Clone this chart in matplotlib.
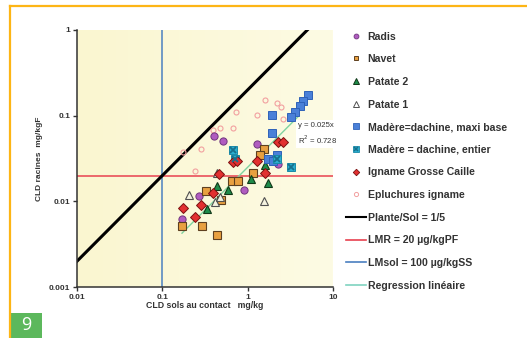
import numpy as np
import matplotlib
matplotlib.use("Agg")
import matplotlib.pyplot as plt
from matplotlib.lines import Line2D

plt.rcParams['font.family'] = ['Liberation Sans', 'DejaVu Sans']

# data (soil mg/kg, roots mg/kgF)
radis_x = [0.40, 0.51, 1.27, 0.90, 2.24, 0.169, 0.267]
radis_y = [0.058, 0.051, 0.047, 0.0134, 0.027, 0.0062, 0.0114]

navet_x = [0.323, 0.483, 0.65, 0.764, 0.169, 0.29, 0.434, 1.14, 1.54, 1.38]
navet_y = [0.0131, 0.0105, 0.0175, 0.0175, 0.0051, 0.0051, 0.0041, 0.0217, 0.0413, 0.0343]

patate2_x = [0.434, 0.583, 0.331, 1.08, 1.71, 1.58]
patate2_y = [0.0149, 0.0134, 0.0081, 0.018, 0.0162, 0.0262]

patate1_x = [0.204, 0.411, 0.471, 1.54, 0.434]
patate1_y = [0.0117, 0.0097, 0.0111, 0.0100, 0.0212]

madere_max_x = [5.16, 4.40, 4.05, 3.55, 3.18, 1.91, 1.91, 1.71, 2.18, 1.96]
madere_max_y = [0.175, 0.149, 0.131, 0.111, 0.097, 0.103, 0.0634, 0.0316, 0.0352, 0.0292]

madere_ent_x = [0.668, 0.705, 3.18, 2.18]
madere_ent_y = [0.0402, 0.0316, 0.0255, 0.0316]

igname_x = [2.24, 2.57, 1.27, 0.668, 0.743, 0.458, 1.58, 0.174, 0.24, 0.282, 0.39]
igname_y = [0.0499, 0.0499, 0.0292, 0.0284, 0.0292, 0.0206, 0.0212, 0.0083, 0.0065, 0.009, 0.0124]

epluch_x = [0.174, 0.24, 0.282, 0.39, 0.471, 0.668, 0.724, 1.27, 1.58, 2.18, 2.43, 2.57]
epluch_y = [0.0381, 0.0229, 0.0413, 0.0687, 0.0725, 0.0725, 0.111, 0.103, 0.153, 0.142, 0.127, 0.0923]

ratio = 1 / 5          # Plante/Sol
lmr = 0.02             # 20 µg/kgPF
lmsol = 0.1            # 100 µg/kgSS
reg_slope = 0.025
reg_r2 = 0.728
reg_range = [0.17, 4.0]

fig = plt.figure(figsize=(5.27, 3.38), dpi=100)
ax = fig.add_axes([77 / 527, 51 / 338, 256 / 527, 257 / 338])

# pale yellow background, a little lighter on the right
grad = np.linspace(0, 1, 256).reshape(1, -1)
c0 = np.array([250, 246, 208]) / 255
c1 = np.array([253, 251, 228]) / 255
img = c0 + (c1 - c0) * grad[..., None]
ax.imshow(img, extent=[0, 1, 0, 1], transform=ax.transAxes, aspect='auto', zorder=0)

ax.set_xscale('log')
ax.set_yscale('log')
ax.set_xlim(0.01, 10)
ax.set_ylim(0.001, 1)

xs = np.array([0.01, 5])
ax.plot(xs, xs * ratio, color='black', lw=2.2, zorder=2)
ax.axhline(lmr, color='#e8414f', lw=1.1, zorder=1)
ax.axvline(lmsol, color='#4a7fc0', lw=1.1, zorder=1)
rx = np.array(reg_range)
ax.plot(rx, rx * reg_slope, color='#7fd3a0', lw=1.0, zorder=2)

ax.plot(epluch_x, epluch_y, 'o', ms=3.6, mfc='none', mec='#f2a0a0', mew=0.8, zorder=3)
ax.plot(radis_x, radis_y, 'o', ms=5.2, mfc='#b05cc0', mec='#70357e', mew=0.7, zorder=3)
ax.plot(navet_x, navet_y, 's', ms=5.2, mfc='#e8a040', mec='#5e4020', mew=0.8, zorder=3)
ax.plot(patate1_x, patate1_y, '^', ms=5.8, mfc='#f5f3e0', mec='#505050', mew=0.8, zorder=3)
ax.plot(patate2_x, patate2_y, '^', ms=5.8, mfc='#1e8c4a', mec='#103818', mew=0.8, zorder=3)
ax.plot(madere_max_x, madere_max_y, 's', ms=6.4, mfc='#4a80d8', mec='#2f62b8', mew=0.7, zorder=3)
ax.plot(madere_ent_x, madere_ent_y, 's', ms=6.4, mfc='#2aaed0', mec='#1a8aa8', mew=0.7, zorder=3)
ax.plot(madere_ent_x, madere_ent_y, 'x', ms=5, mec='#17708c', mew=1.3, zorder=4)
ax.plot(igname_x, igname_y, 'D', ms=4.8, mfc='#e23030', mec='#7a1010', mew=0.7, zorder=3)

ax.text(0.865, 0.595, 'y = 0.025x\nR$^2$ = %.3f' % reg_r2, transform=ax.transAxes,
        fontsize=5.6, color='#333333', linespacing=1.5, va='center', ha='left',
        bbox=dict(facecolor='white', edgecolor='none', pad=1.5), clip_on=False, zorder=5)

ax.set_xticks([0.01, 0.1, 1, 10])
ax.set_xticklabels(['0.01', '0.1', '1', '10'])
ax.set_yticks([0.001, 0.01, 0.1, 1])
ax.set_yticklabels(['0.001', '0.01', '0.1', '1'])
ax.minorticks_off()
ax.tick_params(labelsize=6, length=3, width=1, color='#333333', labelcolor='#333333', pad=2)
for lbl in ax.get_xticklabels() + ax.get_yticklabels():
    lbl.set_fontweight('bold')
for s in ['top', 'right']:
    ax.spines[s].set_visible(False)
for s in ['left', 'bottom']:
    ax.spines[s].set_color('#333333')
    ax.spines[s].set_linewidth(1.1)

ax.set_xlabel('CLD sols au contact   mg/kg', fontsize=6.3, fontweight='bold', color='#333333', labelpad=0)
ax.set_ylabel('CLD racines  mg/kgF', fontsize=6, fontweight='bold', color='#333333', labelpad=4)

handles = [
    Line2D([], [], ls='none', marker='o', ms=3.5, mfc='#b05cc0', mec='#70357e', mew=0.6),
    Line2D([], [], ls='none', marker='s', ms=3.5, mfc='#e8a040', mec='#5e4020', mew=0.7),
    Line2D([], [], ls='none', marker='^', ms=4, mfc='#1e8c4a', mec='#103818', mew=0.7),
    Line2D([], [], ls='none', marker='^', ms=4, mfc='white', mec='#505050', mew=0.7),
    Line2D([], [], ls='none', marker='s', ms=4.5, mfc='#4a80d8', mec='#2f62b8', mew=0.6),
    (Line2D([], [], ls='none', marker='s', ms=4.5, mfc='#2aaed0', mec='#1a8aa8', mew=0.6),
     Line2D([], [], ls='none', marker='x', ms=3.5, mec='#17708c', mew=1.1)),
    Line2D([], [], ls='none', marker='D', ms=3.3, mfc='#e23030', mec='#7a1010', mew=0.6),
    Line2D([], [], ls='none', marker='o', ms=3, mfc='none', mec='#f2a0a0', mew=0.7),
    Line2D([], [], color='black', lw=1.5),
    Line2D([], [], color='#e8414f', lw=1.2),
    Line2D([], [], color='#4a7fc0', lw=1.2),
    Line2D([], [], color='#7fd3c0', lw=1.2),
]
labels = ['Radis', 'Navet', 'Patate 2', 'Patate 1', 'Madère=dachine, maxi base',
          'Madère = dachine, entier', 'Igname Grosse Caille', 'Epluchures igname',
          'Plante/Sol = 1/5', 'LMR = 20 µg/kgPF', 'LMsol = 100 µg/kgSS', 'Regression linéaire']
fig.legend(handles, labels, loc='upper left', bbox_to_anchor=(346 / 527, 1 - 31.5 / 338),
           frameon=False, handlelength=1.85, handletextpad=0.2, labelspacing=1.2,
           borderaxespad=0, borderpad=0,
           prop={'size': 7.6, 'weight': 'bold'}, labelcolor='#333333')

# orange page frame and figure number
fig.add_artist(Line2D([10 / 527, 1], [1 - 6 / 338, 1 - 6 / 338], color='#fdb515', lw=1.6))
fig.add_artist(Line2D([10 / 527, 10 / 527], [0, 1 - 6 / 338], color='#fdb515', lw=1.6))
fig.patches.append(plt.Rectangle((10 / 527, 0), 32 / 527, 25 / 338, transform=fig.transFigure,
                                 facecolor='#5cb85c', edgecolor='none'))
fig.text(26 / 527, 12.5 / 338, '9', fontsize=13, color='white', ha='center', va='center',
         family='Open Sans')

fig.savefig('out.png', dpi=100)
